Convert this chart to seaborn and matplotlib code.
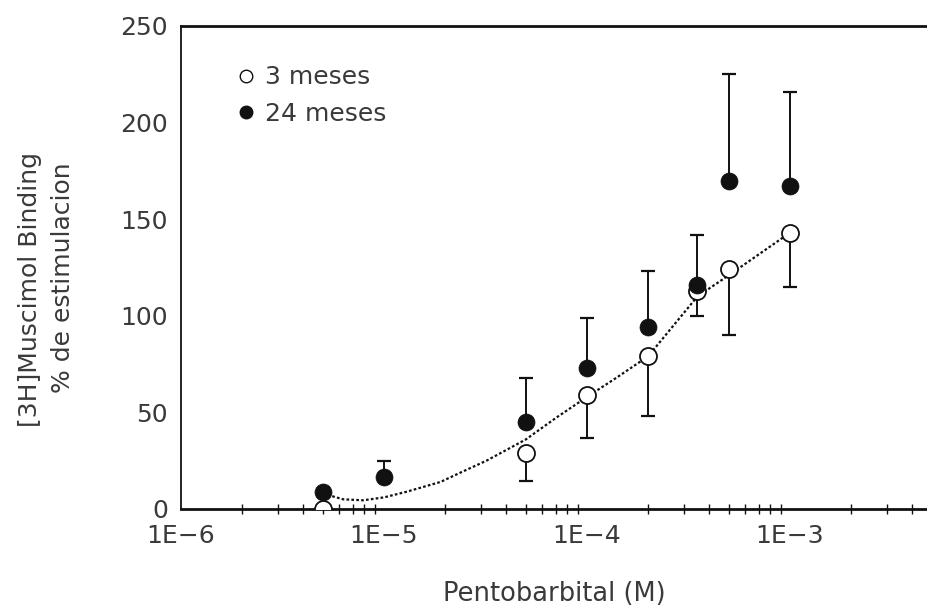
import numpy as np
import pandas as pd
import matplotlib
matplotlib.use("Agg")
import matplotlib.pyplot as plt
from matplotlib.lines import Line2D
from matplotlib.ticker import FixedLocator, LogLocator, NullFormatter
import seaborn as sns

# Pentobarbital concentration (M)
conc_3m = [5e-6, 5e-5, 1e-4, 2e-4, 3.5e-4, 5e-4, 1e-3]
conc_24m = [5e-6, 1e-5, 5e-5, 1e-4, 2e-4, 3.5e-4, 5e-4, 1e-3]

# [3H]Muscimol binding, % stimulation
binding_3m = [0, 29, 59, 79, 113, 124, 143]
binding_24m = [9, 16.5, 45, 73, 94, 116, 170, 167]

# error bars (3 months drawn downward, 24 months upward)
err_3m = [0, 14.5, 22, 31, 13, 34, 28]
err_24m = [0, 8.5, 23, 26, 29, 26, 55, 49]

# fitted curve for the 3-month group
fit_conc = [5e-6, 6.3e-6, 7.9e-6, 1e-5, 1.3e-5, 1.9e-5, 2.4e-5, 3.2e-5,
            5e-5, 7e-5, 1e-4, 1.4e-4, 2e-4, 3.5e-4, 5e-4, 1e-3]
fit_binding = [8, 5, 4.5, 6, 9, 14, 19, 25,
               36, 47, 58, 68, 79, 110, 121, 143]

tick_vals = [1e-6, 1e-5, 1e-4, 1e-3]
tick_text = ["1E\u22126", "1E\u22125", "1E\u22124", "1E\u22123"]
y_ticks = [0, 50, 100, 150, 200, 250]
labels = ["3 meses", "24 meses"]

sns.set_style("white")
plt.rcParams["font.family"] = ["DejaVu Sans"]
ink = "#111111"
txt = "#3a3a3a"

fig = plt.figure(figsize=(9.28, 6.10), dpi=100)
ax = fig.add_axes([0.195, 0.1656, 0.805, 0.7918])

fit_df = pd.DataFrame({"conc": fit_conc, "binding": fit_binding})
sns.lineplot(data=fit_df, x="conc", y="binding", ax=ax, color=ink,
             linestyle=(0, (1.2, 1.0)), linewidth=1.6, estimator=None,
             sort=True, zorder=2)

ax.errorbar(conc_3m, binding_3m, yerr=[err_3m, [0] * len(err_3m)],
            fmt="none", ecolor=ink, elinewidth=1.4, capsize=5,
            capthick=1.6, zorder=1)
ax.errorbar(conc_24m, binding_24m, yerr=[[0] * len(err_24m), err_24m],
            fmt="none", ecolor=ink, elinewidth=1.4, capsize=5,
            capthick=1.6, zorder=1)

df3 = pd.DataFrame({"conc": conc_3m, "binding": binding_3m})
df24 = pd.DataFrame({"conc": conc_24m, "binding": binding_24m})
sns.scatterplot(data=df3, x="conc", y="binding", ax=ax, s=150,
                facecolor="white", edgecolor=ink, linewidth=1.3, zorder=3)
sns.scatterplot(data=df24, x="conc", y="binding", ax=ax, s=150,
                color=ink, edgecolor=ink, linewidth=0.5, zorder=4)

ax.set_xscale("log")
ax.set_xlim(1e-6, 10 ** -2.32)
ax.set_ylim(0, 250)

ax.xaxis.set_major_locator(FixedLocator(tick_vals))
ax.set_xticklabels(tick_text)
ax.xaxis.set_minor_locator(LogLocator(base=10, subs=np.arange(2, 10)))
ax.xaxis.set_minor_formatter(NullFormatter())
ax.set_yticks(y_ticks)
ax.set_yticklabels([str(v) for v in y_ticks])

ax.tick_params(axis="both", which="major", direction="inout", length=13,
               width=1.2, color=ink, labelsize=18, labelcolor=txt)
ax.tick_params(axis="x", which="major", pad=4)
ax.tick_params(axis="y", which="major", pad=3)
ax.tick_params(axis="x", which="minor", direction="inout", length=7,
               width=1.0, color=ink, bottom=True)

for side in ["top", "bottom"]:
    ax.spines[side].set_visible(True)
    ax.spines[side].set_color(ink)
    ax.spines[side].set_linewidth(2.0)
ax.spines["left"].set_color(ink)
ax.spines["left"].set_linewidth(1.3)
ax.spines["left"].set_linestyle((0, (2, 1)))
ax.spines["right"].set_visible(False)

ax.set_xlabel("Pentobarbital (M)", fontsize=18.5, color=txt, labelpad=24)
ax.set_ylabel("")
fig.text(0.032, 0.525, "[3H]Muscimol Binding", rotation=90, ha="center",
         va="center", fontsize=18, color=txt)
fig.text(0.068, 0.545, "% de estimulacion", rotation=90, ha="center",
         va="center", fontsize=18, color=txt)

handles = [
    Line2D([], [], marker="o", linestyle="none", markersize=9,
           markerfacecolor="white", markeredgecolor=ink, markeredgewidth=1.0),
    Line2D([], [], marker="o", linestyle="none", markersize=9,
           markerfacecolor=ink, markeredgecolor=ink),
]
ax.legend(handles, labels, loc="upper left", bbox_to_anchor=(0.04, 0.965),
          frameon=False, fontsize=18, handletextpad=0.25, handlelength=1.0,
          labelspacing=0.5, labelcolor=txt)

fig.savefig("out.png", dpi=100)
